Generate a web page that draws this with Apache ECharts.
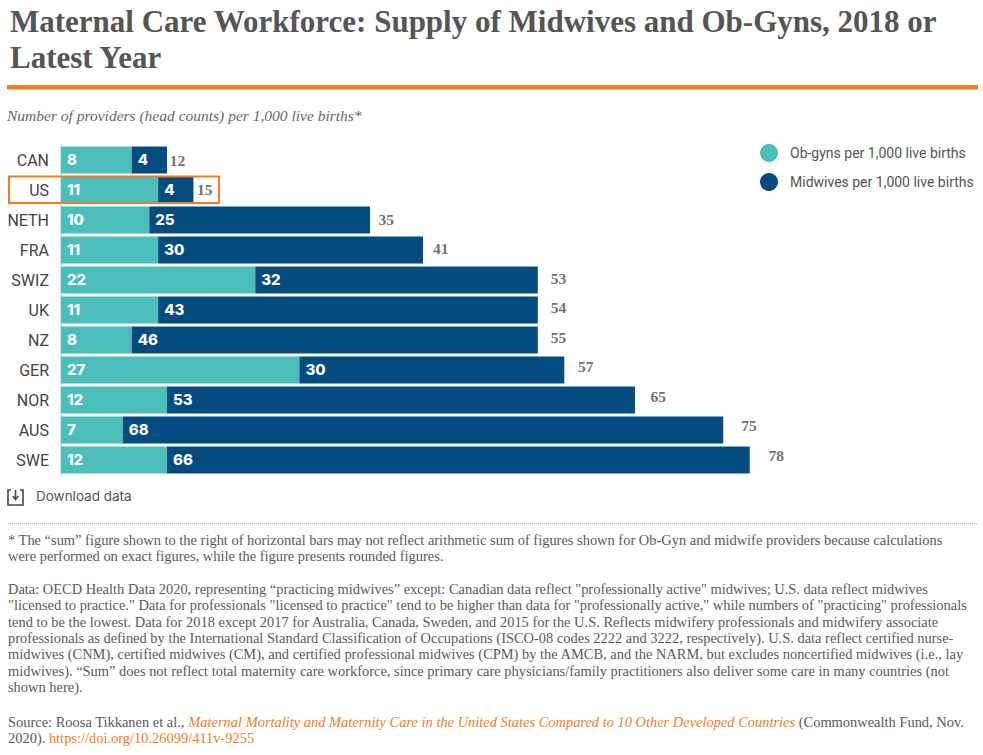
<!DOCTYPE html>
<html>
<head>
<meta charset="utf-8">
<style>html,body{margin:0;padding:0;background:#fff}#c{width:983px;height:755px}</style>
<script src="https://cdn.jsdelivr.net/npm/echarts@6/dist/echarts.min.js"></script>
</head>
<body>
<div id="c"></div>
<script>
const categories = ['CAN','US','NETH','FRA','SWIZ','UK','NZ','GER','NOR','AUS','SWE'];
const obGyns   = [8,11,10,11,22,11,8,27,12,7,12];
const midwives = [4,4,25,30,32,43,46,30,53,68,66];
const sums     = [12,15,35,41,53,54,55,57,65,75,78];
const seriesNames = ['Ob-gyns per 1,000 live births','Midwives per 1,000 live births'];
const titleLines = ['Maternal Care Workforce: Supply of Midwives and Ob-Gyns, 2018 or','Latest Year'];
const subtitle = 'Number of providers (head counts) per 1,000 live births*';
const downloadText = 'Download data';
const noteA = [
 '* The “sum” figure shown to the right of horizontal bars may not reflect arithmetic sum of figures shown for Ob-Gyn and midwife providers because calculations',
 'were performed on exact figures, while the figure presents rounded figures.'
];
const noteB = [
 'Data: OECD Health Data 2020, representing “practicing midwives” except: Canadian data reflect "professionally active" midwives; U.S. data reflect midwives',
 '"licensed to practice." Data for professionals "licensed to practice" tend to be higher than data for "professionally active," while numbers of "practicing" professionals',
 'tend to be the lowest. Data for 2018 except 2017 for Australia, Canada, Sweden, and 2015 for the U.S. Reflects midwifery professionals and midwifery associate',
 'professionals as defined by the International Standard Classification of Occupations (ISCO-08 codes 2222 and 3222, respectively). U.S. data reflect certified nurse-',
 'midwives (CNM), certified midwives (CM), and certified professional midwives (CPM) by the AMCB, and the NARM, but excludes noncertified midwives (i.e., lay',
 'midwives). “Sum” does not reflect total maternity care workforce, since primary care physicians/family practitioners also deliver some care in many countries (not',
 'shown here).'
];
const srcA = 'Source: Roosa Tikkanen et al., ';
const srcTitle = 'Maternal Mortality and Maternity Care in the United States Compared to 10 Other Developed Countries';
const srcB = ' (Commonwealth Fund, Nov.';
const srcC = '2020). ';
const srcLink = 'https://doi.org/10.26099/411v-9255';

const ORANGE='#f47b20', TEAL='#4bbdbb', NAVY='#044b80', GREY='#595959';
const SERIF='"Liberation Serif","Times New Roman",serif';
const SANS='Inter,Roboto,"Liberation Sans",sans-serif';
const NOTE_FONT='14.45px '+SERIF;

function txt(x,y,text,style){
  return {type:'text',x,y,silent:true,style:Object.assign({text,fill:GREY,font:NOTE_FONT,textVerticalAlign:'middle'},style||{})};
}
const noteStyle={fill:'#5a5a5a',font:NOTE_FONT};
const graphics=[
  txt(10,21,titleLines[0],{font:'bold 31px '+SERIF,fill:'#555'}),
  txt(10,57,titleLines[1],{font:'bold 31px '+SERIF,fill:'#555'}),
  {type:'rect',silent:true,shape:{x:7,y:85,width:971,height:4.5},style:{fill:ORANGE}},
  txt(7,115.5,subtitle,{font:'italic 15.5px '+SERIF,fill:'#666'}),
  {type:'rect',silent:true,z:20,shape:{x:9,y:176.5,width:210,height:26.5},style:{fill:'none',stroke:ORANGE,lineWidth:2}},
  {type:'polyline',silent:true,shape:{points:[[11,490],[8,490],[8,505],[23,505],[23,490],[20,490]]},style:{fill:'none',stroke:'#444',lineWidth:1.6}},
  {type:'polyline',silent:true,shape:{points:[[15.5,490],[15.5,499]]},style:{fill:'none',stroke:'#444',lineWidth:1.6}},
  {type:'polyline',silent:true,shape:{points:[[12.8,496],[15.5,499.5],[18.2,496]]},style:{fill:'none',stroke:'#444',lineWidth:1.4}},
  txt(36,496,downloadText,{font:'13.5px '+SANS,fill:'#555'}),
  {type:'line',silent:true,shape:{x1:8,y1:523.5,x2:978,y2:523.5},style:{stroke:'#aaa',lineWidth:1,lineDash:[1,1]}}
];
noteA.forEach((l,i)=>graphics.push(txt(8,540+i*16.3,l,noteStyle)));
noteB.forEach((l,i)=>graphics.push(txt(8,589+i*16.3,l,noteStyle)));
const richBase={fontFamily:SERIF,fontSize:14.45,fill:'#5a5a5a',color:'#5a5a5a'};
graphics.push({type:'text',x:8,y:722,silent:true,style:{
  text:'{a|'+srcA+'}{o|'+srcTitle+'}{a|'+srcB+'}',textVerticalAlign:'middle',
  rich:{a:richBase,o:Object.assign({},richBase,{fill:ORANGE,color:ORANGE,fontStyle:'italic'})}}});
graphics.push({type:'text',x:8,y:738,silent:true,style:{
  text:'{a|'+srcC+'}{l|'+srcLink+'}',textVerticalAlign:'middle',
  rich:{a:richBase,l:Object.assign({},richBase,{fill:ORANGE,color:ORANGE})}}});

const barLabel={show:true,position:'insideLeft',distance:6,offset:[0,-1],color:'#fff',fontFamily:SANS,fontWeight:800,fontSize:15};
const chart=echarts.init(document.getElementById('c'),null,{renderer:'svg',width:983,height:755});
chart.setOption({
  animation:false,
  backgroundColor:'#fff',
  textStyle:{fontFamily:SANS},
  legend:{
    orient:'vertical',left:755,top:139,icon:'circle',itemWidth:18,itemHeight:18,itemGap:11,
    data:seriesNames,selectedMode:false,
    textStyle:{fontFamily:'Roboto,sans-serif',fontSize:14,color:'#555',padding:[0,0,4,7]}
  },
  grid:[
    {left:61,top:145,width:883,height:330},
    {left:61,top:145.25,width:883,height:324.5}
  ],
  xAxis:[
    {type:'value',gridIndex:0,min:0,max:100,show:false},
    {type:'value',gridIndex:1,min:0,max:97.35,show:false}
  ],
  yAxis:[{
    type:'category',gridIndex:0,inverse:true,data:categories,
    axisTick:{show:false},
    axisLine:{lineStyle:{color:'#dcdcdc',width:2}},
    axisLabel:{color:'#444',fontFamily:'Roboto,"Liberation Sans",sans-serif',fontSize:16,margin:12,padding:[0,0,2,0]}
  },{
    type:'category',gridIndex:1,inverse:true,data:categories,show:false
  }],
  series:[
    {name:seriesNames[0],type:'bar',stack:'t',barWidth:27,data:obGyns,itemStyle:{color:TEAL},label:barLabel},
    {name:seriesNames[1],type:'bar',stack:'t',barWidth:27,data:midwives,itemStyle:{color:NAVY},label:barLabel},
    {name:'Sum',type:'scatter',xAxisIndex:1,yAxisIndex:1,symbolSize:0,
     data:categories.map((c,i)=>[obGyns[i]+midwives[i],c]),
     label:{show:true,position:'right',distance:0,formatter:p=>String(sums[p.dataIndex]),
       color:'#4a4a4a',fontFamily:SERIF,fontWeight:'bold',fontSize:15.5}}
  ],
  graphic:{elements:graphics}
});
</script>
</body>
</html>
